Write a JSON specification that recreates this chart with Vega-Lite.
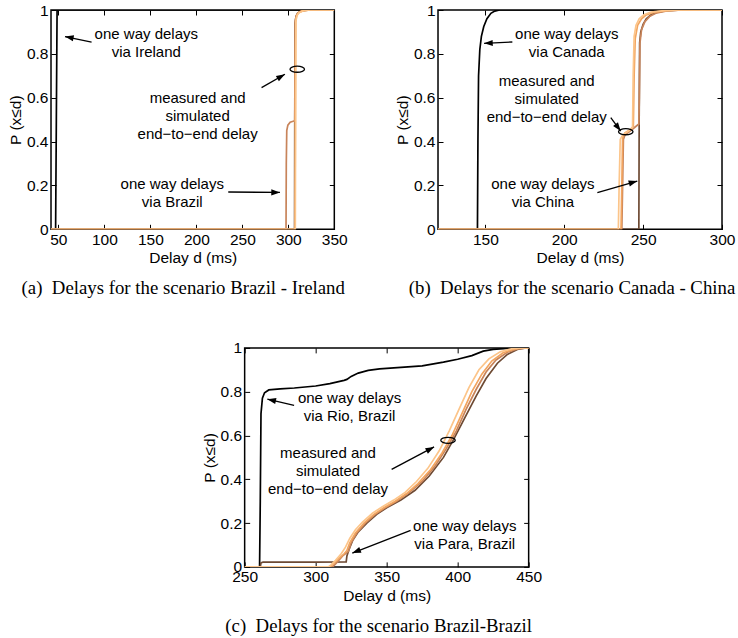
{
  "$schema": "https://vega.github.io/schema/vega-lite/v6.json",
  "background": "white",
  "padding": {"left": 7, "top": 2, "right": 0, "bottom": 0},
  "config": {
    "view": {"stroke": "black", "strokeWidth": 1.5},
    "axis": {"domain": false, "grid": false, "ticks": true, "tickSize": -5, "tickColor": "black", "tickWidth": 1,
      "labelFont": "Liberation Sans", "labelFontSize": 15.5, "labelColor": "black", "labelPadding": 8,
      "labelFlush": false, "labelOverlap": false, "labelBound": false,
      "titleFont": "Liberation Sans", "titleFontSize": 15.5, "titleFontWeight": "normal", "titleColor": "black"},
    "axisY": {"titlePadding": 3},
    "axisX": {"titlePadding": 3},
    "title": {"font": "Liberation Serif", "fontSize": 18.8, "fontWeight": "normal", "orient": "bottom", "anchor": "middle", "frame": "group", "color": "black", "offset": 13}
  },
  "datasets": {
    "aL": [
      {"s":"s1","x":42,"y":0},{"s":"s1","x":47,"y":0},{"s":"s1","x":47.8,"y":0.5},{"s":"s1","x":48.6,"y":1},{"s":"s1","x":350,"y":1},
      {"s":"s2","x":42,"y":0},{"s":"s2","x":306.8,"y":0},{"s":"s2","x":307,"y":0.5},{"s":"s2","x":307.3,"y":0.94},{"s":"s2","x":308.3,"y":0.97},{"s":"s2","x":310,"y":0.985},{"s":"s2","x":313,"y":0.994},{"s":"s2","x":318,"y":0.998},{"s":"s2","x":325,"y":1},{"s":"s2","x":350,"y":1},
      {"s":"s3","x":42,"y":0},{"s":"s3","x":297.5,"y":0},{"s":"s3","x":297.8,"y":0.3},{"s":"s3","x":298.3,"y":0.45},{"s":"s3","x":299.5,"y":0.475},{"s":"s3","x":302,"y":0.488},{"s":"s3","x":307,"y":0.495},{"s":"s3","x":307.3,"y":0.7},{"s":"s3","x":307.6,"y":0.95},{"s":"s3","x":308.8,"y":0.975},{"s":"s3","x":311,"y":0.988},{"s":"s3","x":315,"y":0.996},{"s":"s3","x":322,"y":1},{"s":"s3","x":350,"y":1},
      {"s":"s4","x":42,"y":0},{"s":"s4","x":307.3,"y":0},{"s":"s4","x":307.6,"y":0.5},{"s":"s4","x":307.9,"y":0.95},{"s":"s4","x":309,"y":0.975},{"s":"s4","x":311,"y":0.988},{"s":"s4","x":315,"y":0.996},{"s":"s4","x":322,"y":1},{"s":"s4","x":350,"y":1},
      {"s":"s5","x":42,"y":0},{"s":"s5","x":307.6,"y":0},{"s":"s5","x":307.9,"y":0.5},{"s":"s5","x":308.2,"y":0.95},{"s":"s5","x":309.5,"y":0.975},{"s":"s5","x":311.5,"y":0.988},{"s":"s5","x":316,"y":0.996},{"s":"s5","x":324,"y":1},{"s":"s5","x":350,"y":1}
    ],
    "aT": [
      {"x":145.6,"y":0.889,"t":"one way delays\nvia Ireland"},
      {"x":201.4,"y":0.601,"t":"measured and\nsimulated\nend−to−end delay"},
      {"x":173.8,"y":0.205,"t":"one way delays\nvia Brazil"}
    ],
    "aA": [
      {"x":86.1,"y":0.854,"x2":57.2,"y2":0.879,"a":281.5},
      {"x":270.9,"y":0.646,"x2":296.3,"y2":0.707,"a":60.4},
      {"x":234.7,"y":0.170,"x2":290.9,"y2":0.168,"a":90.7}
    ],
    "aE": [{"x":309.7,"y":0.73}],
    "bL": [
      {"s":"s1","x":120,"y":0},{"s":"s1","x":145,"y":0},{"s":"s1","x":145.3,"y":0.4},{"s":"s1","x":145.7,"y":0.7},{"s":"s1","x":146.5,"y":0.82},{"s":"s1","x":147.5,"y":0.88},{"s":"s1","x":149,"y":0.925},{"s":"s1","x":151,"y":0.96},{"s":"s1","x":153.5,"y":0.985},{"s":"s1","x":156,"y":0.995},{"s":"s1","x":159,"y":1},{"s":"s1","x":300,"y":1},
      {"s":"s2","x":120,"y":0},{"s":"s2","x":247.3,"y":0},{"s":"s2","x":247.5,"y":0.5},{"s":"s2","x":247.8,"y":0.85},{"s":"s2","x":248.5,"y":0.9},{"s":"s2","x":250,"y":0.935},{"s":"s2","x":252,"y":0.96},{"s":"s2","x":255,"y":0.978},{"s":"s2","x":259,"y":0.99},{"s":"s2","x":265,"y":0.997},{"s":"s2","x":275,"y":1},{"s":"s2","x":300,"y":1},
      {"s":"s3","x":120,"y":0},{"s":"s3","x":236.5,"y":0},{"s":"s3","x":237,"y":0.2},{"s":"s3","x":237.5,"y":0.41},{"s":"s3","x":238.5,"y":0.43},{"s":"s3","x":243,"y":0.455},{"s":"s3","x":247.3,"y":0.48},{"s":"s3","x":247.6,"y":0.6},{"s":"s3","x":248,"y":0.85},{"s":"s3","x":249,"y":0.91},{"s":"s3","x":251,"y":0.945},{"s":"s3","x":254,"y":0.97},{"s":"s3","x":258,"y":0.985},{"s":"s3","x":265,"y":0.996},{"s":"s3","x":275,"y":1},{"s":"s3","x":300,"y":1},
      {"s":"s4","x":120,"y":0},{"s":"s4","x":236,"y":0},{"s":"s4","x":236.5,"y":0.2},{"s":"s4","x":237,"y":0.42},{"s":"s4","x":238.5,"y":0.44},{"s":"s4","x":242,"y":0.455},{"s":"s4","x":243.8,"y":0.47},{"s":"s4","x":244.3,"y":0.7},{"s":"s4","x":245,"y":0.87},{"s":"s4","x":246.5,"y":0.93},{"s":"s4","x":249,"y":0.96},{"s":"s4","x":252,"y":0.978},{"s":"s4","x":257,"y":0.99},{"s":"s4","x":265,"y":0.997},{"s":"s4","x":275,"y":1},{"s":"s4","x":300,"y":1},
      {"s":"s5","x":120,"y":0},{"s":"s5","x":234.3,"y":0},{"s":"s5","x":234.8,"y":0.2},{"s":"s5","x":235.5,"y":0.41},{"s":"s5","x":237,"y":0.43},{"s":"s5","x":241,"y":0.45},{"s":"s5","x":243.3,"y":0.465},{"s":"s5","x":243.7,"y":0.7},{"s":"s5","x":244.3,"y":0.88},{"s":"s5","x":245.5,"y":0.93},{"s":"s5","x":247.5,"y":0.96},{"s":"s5","x":250.5,"y":0.978},{"s":"s5","x":255,"y":0.99},{"s":"s5","x":263,"y":0.997},{"s":"s5","x":272,"y":1},{"s":"s5","x":300,"y":1}
    ],
    "bT": [
      {"x":201.6,"y":0.889,"t":"one way delays\nvia Canada"},
      {"x":188.9,"y":0.676,"t":"measured and\nsimulated\nend−to−end delay"},
      {"x":186.5,"y":0.205,"t":"one way delays\nvia China"}
    ],
    "bA": [
      {"x":167.1,"y":0.854,"x2":149.2,"y2":0.848,"a":267.4},
      {"x":229.5,"y":0.509,"x2":235.8,"y2":0.448,"a":143.3},
      {"x":221,"y":0.167,"x2":246.3,"y2":0.220,"a":73.8}
    ],
    "bE": [{"x":239,"y":0.445}],
    "cL": [
      {"s":"s1","x":250,"y":0},{"s":"s1","x":260.5,"y":0},{"s":"s1","x":261,"y":0.3},{"s":"s1","x":261.5,"y":0.7},{"s":"s1","x":262.5,"y":0.77},{"s":"s1","x":264,"y":0.795},{"s":"s1","x":267,"y":0.808},{"s":"s1","x":275,"y":0.813},{"s":"s1","x":285,"y":0.817},{"s":"s1","x":300,"y":0.826},{"s":"s1","x":310,"y":0.837},{"s":"s1","x":320,"y":0.852},{"s":"s1","x":322,"y":0.856},{"s":"s1","x":325,"y":0.87},{"s":"s1","x":330,"y":0.885},{"s":"s1","x":337,"y":0.897},{"s":"s1","x":345,"y":0.904},{"s":"s1","x":360,"y":0.911},{"s":"s1","x":375,"y":0.918},{"s":"s1","x":390,"y":0.935},{"s":"s1","x":400,"y":0.948},{"s":"s1","x":410,"y":0.965},{"s":"s1","x":418,"y":0.985},{"s":"s1","x":425,"y":0.993},{"s":"s1","x":435,"y":0.998},{"s":"s1","x":445,"y":1},{"s":"s1","x":450,"y":1},
      {"s":"s2","x":250,"y":0},{"s":"s2","x":261,"y":0},{"s":"s2","x":261.5,"y":0.018},{"s":"s2","x":263,"y":0.022},{"s":"s2","x":300,"y":0.022},{"s":"s2","x":321.5,"y":0.023},{"s":"s2","x":322,"y":0.05},{"s":"s2","x":323.5,"y":0.08},{"s":"s2","x":326,"y":0.12},{"s":"s2","x":330,"y":0.16},{"s":"s2","x":336,"y":0.2},{"s":"s2","x":343,"y":0.24},{"s":"s2","x":350,"y":0.27},{"s":"s2","x":360,"y":0.305},{"s":"s2","x":370,"y":0.35},{"s":"s2","x":380,"y":0.415},{"s":"s2","x":390,"y":0.5},{"s":"s2","x":397,"y":0.58},{"s":"s2","x":405,"y":0.68},{"s":"s2","x":413,"y":0.78},{"s":"s2","x":420,"y":0.86},{"s":"s2","x":428,"y":0.93},{"s":"s2","x":435,"y":0.97},{"s":"s2","x":442,"y":0.993},{"s":"s2","x":448,"y":1},{"s":"s2","x":450,"y":1},
      {"s":"s3","x":250,"y":0},{"s":"s3","x":312,"y":0},{"s":"s3","x":315,"y":0.02},{"s":"s3","x":319,"y":0.05},{"s":"s3","x":322,"y":0.065},{"s":"s3","x":323,"y":0.07},{"s":"s3","x":325,"y":0.11},{"s":"s3","x":329,"y":0.155},{"s":"s3","x":335,"y":0.2},{"s":"s3","x":342,"y":0.24},{"s":"s3","x":349,"y":0.27},{"s":"s3","x":357,"y":0.3},{"s":"s3","x":366,"y":0.34},{"s":"s3","x":375,"y":0.39},{"s":"s3","x":384,"y":0.46},{"s":"s3","x":392,"y":0.54},{"s":"s3","x":399,"y":0.62},{"s":"s3","x":406,"y":0.72},{"s":"s3","x":413,"y":0.81},{"s":"s3","x":420,"y":0.89},{"s":"s3","x":427,"y":0.945},{"s":"s3","x":435,"y":0.98},{"s":"s3","x":443,"y":0.997},{"s":"s3","x":450,"y":1},
      {"s":"s4","x":250,"y":0},{"s":"s4","x":310,"y":0},{"s":"s4","x":312,"y":0.01},{"s":"s4","x":316,"y":0.035},{"s":"s4","x":320,"y":0.06},{"s":"s4","x":322,"y":0.075},{"s":"s4","x":324,"y":0.11},{"s":"s4","x":328,"y":0.155},{"s":"s4","x":334,"y":0.2},{"s":"s4","x":341,"y":0.24},{"s":"s4","x":348,"y":0.27},{"s":"s4","x":356,"y":0.3},{"s":"s4","x":364,"y":0.335},{"s":"s4","x":372,"y":0.38},{"s":"s4","x":381,"y":0.445},{"s":"s4","x":389,"y":0.52},{"s":"s4","x":396,"y":0.6},{"s":"s4","x":403,"y":0.7},{"s":"s4","x":410,"y":0.8},{"s":"s4","x":417,"y":0.88},{"s":"s4","x":424,"y":0.94},{"s":"s4","x":432,"y":0.978},{"s":"s4","x":440,"y":0.995},{"s":"s4","x":447,"y":1},{"s":"s4","x":450,"y":1},
      {"s":"s5","x":250,"y":0},{"s":"s5","x":309,"y":0},{"s":"s5","x":311,"y":0.01},{"s":"s5","x":314,"y":0.03},{"s":"s5","x":318,"y":0.06},{"s":"s5","x":321,"y":0.09},{"s":"s5","x":324,"y":0.13},{"s":"s5","x":328,"y":0.17},{"s":"s5","x":333,"y":0.205},{"s":"s5","x":340,"y":0.245},{"s":"s5","x":347,"y":0.275},{"s":"s5","x":355,"y":0.305},{"s":"s5","x":363,"y":0.34},{"s":"s5","x":371,"y":0.39},{"s":"s5","x":379,"y":0.45},{"s":"s5","x":387,"y":0.53},{"s":"s5","x":394,"y":0.62},{"s":"s5","x":401,"y":0.72},{"s":"s5","x":408,"y":0.82},{"s":"s5","x":415,"y":0.9},{"s":"s5","x":422,"y":0.95},{"s":"s5","x":430,"y":0.982},{"s":"s5","x":438,"y":0.996},{"s":"s5","x":445,"y":1},{"s":"s5","x":450,"y":1}
    ],
    "cT": [
      {"x":323.9,"y":0.773,"t":"one way delays\nvia Rio, Brazil"},
      {"x":308.7,"y":0.521,"t":"measured and\nsimulated\nend−to−end delay"},
      {"x":405,"y":0.187,"t":"one way delays\nvia Para, Brazil"}
    ],
    "cA": [
      {"x":284.8,"y":0.738,"x2":266,"y2":0.766,"a":282.7},
      {"x":353.5,"y":0.445,"x2":383.4,"y2":0.548,"a":61.9},
      {"x":366.9,"y":0.167,"x2":325.8,"y2":0.063,"a":248.5}
    ],
    "cE": [{"x":393.2,"y":0.578}]
  },
  "vconcat": [
    {
      "hconcat": [
        {
          "width": 283.3, "height": 219.3,
          "title": {"text": "(a)\u00a0 Delays for the scenario Brazil - Ireland", "dx": -9.4},
          "resolve": {"axis": {"x": "independent", "y": "independent"}},
          "layer": [
            {"data": {"name": "aL"}, "mark": {"type": "line", "strokeWidth": 1.7, "clip": true},
             "encoding": {
               "x": {"field": "x", "type": "quantitative", "scale": {"domain": [42, 350], "nice": false, "zero": false}, "axis": {"values": [50,100,150,200,250,300,350], "format": "d", "title": "Delay d (ms)"}},
               "y": {"field": "y", "type": "quantitative", "scale": {"domain": [0, 1], "nice": false}, "axis": {"values": [0,0.2,0.4,0.6,0.8,1], "format": "~g", "title": "P (x≤d)"}},
               "color": {"field": "s", "type": "nominal", "scale": {"domain": ["s1","s2","s3","s4","s5"], "range": ["#000000","#6E4A33","#C8845A","#F2A560","#FCC58A"]}, "legend": null}
             }},
            {"data": {"name": "aA"}, "mark": {"type": "rule", "color": "black", "strokeWidth": 1.3},
             "encoding": {"x": {"field": "x", "type": "quantitative", "axis": null}, "y": {"field": "y", "type": "quantitative", "axis": null}, "x2": {"field": "x2"}, "y2": {"field": "y2"}}},
            {"data": {"name": "aA"}, "mark": {"type": "point", "shape": "M0,0L-0.35,1L0.35,1Z", "filled": true, "color": "black", "size": 300, "opacity": 1},
             "encoding": {"x": {"field": "x2", "type": "quantitative", "axis": null}, "y": {"field": "y2", "type": "quantitative", "axis": null}, "angle": {"field": "a", "type": "quantitative", "scale": null}}},
            {"data": {"name": "aT"}, "mark": {"type": "text", "font": "Liberation Sans", "fontSize": 15, "lineBreak": "\n", "lineHeight": 18, "align": "center", "baseline": "middle", "color": "black"},
             "encoding": {"x": {"field": "x", "type": "quantitative", "axis": null}, "y": {"field": "y", "type": "quantitative", "axis": null}, "text": {"field": "t"}}},
            {"data": {"name": "aE"}, "mark": {"type": "point", "shape": "M-1,0A1,0.42,0,1,1,1,0A1,0.42,0,1,1,-1,0Z", "size": 210, "filled": false, "color": "black", "strokeWidth": 1.3, "opacity": 1},
             "encoding": {"x": {"field": "x", "type": "quantitative", "axis": {"orient": "top", "labels": false, "title": null, "values": [50,100,150,200,250,300,350]}}, "y": {"field": "y", "type": "quantitative", "axis": {"orient": "right", "labels": false, "title": null, "values": [0,0.2,0.4,0.6,0.8,1]}}}}
          ]
        },
        {
          "width": 284, "height": 219.3,
          "title": {"text": "(b)\u00a0 Delays for the scenario Canada - China", "dx": -8},
          "resolve": {"axis": {"x": "independent", "y": "independent"}},
          "layer": [
            {"data": {"name": "bL"}, "mark": {"type": "line", "strokeWidth": 1.7, "clip": true},
             "encoding": {
               "x": {"field": "x", "type": "quantitative", "scale": {"domain": [120, 300], "nice": false, "zero": false}, "axis": {"values": [150,200,250,300], "format": "d", "title": "Delay d (ms)"}},
               "y": {"field": "y", "type": "quantitative", "scale": {"domain": [0, 1], "nice": false}, "axis": {"values": [0,0.2,0.4,0.6,0.8,1], "format": "~g", "title": "P (x≤d)"}},
               "color": {"field": "s", "type": "nominal", "scale": {"domain": ["s1","s2","s3","s4","s5"], "range": ["#000000","#6E4A33","#C8845A","#F2A560","#FCC58A"]}, "legend": null}
             }},
            {"data": {"name": "bA"}, "mark": {"type": "rule", "color": "black", "strokeWidth": 1.3},
             "encoding": {"x": {"field": "x", "type": "quantitative", "axis": null}, "y": {"field": "y", "type": "quantitative", "axis": null}, "x2": {"field": "x2"}, "y2": {"field": "y2"}}},
            {"data": {"name": "bA"}, "mark": {"type": "point", "shape": "M0,0L-0.35,1L0.35,1Z", "filled": true, "color": "black", "size": 300, "opacity": 1},
             "encoding": {"x": {"field": "x2", "type": "quantitative", "axis": null}, "y": {"field": "y2", "type": "quantitative", "axis": null}, "angle": {"field": "a", "type": "quantitative", "scale": null}}},
            {"data": {"name": "bT"}, "mark": {"type": "text", "font": "Liberation Sans", "fontSize": 15, "lineBreak": "\n", "lineHeight": 18, "align": "center", "baseline": "middle", "color": "black"},
             "encoding": {"x": {"field": "x", "type": "quantitative", "axis": null}, "y": {"field": "y", "type": "quantitative", "axis": null}, "text": {"field": "t"}}},
            {"data": {"name": "bE"}, "mark": {"type": "point", "shape": "M-1,0A1,0.42,0,1,1,1,0A1,0.42,0,1,1,-1,0Z", "size": 210, "filled": false, "color": "black", "strokeWidth": 1.3, "opacity": 1},
             "encoding": {"x": {"field": "x", "type": "quantitative", "axis": {"orient": "top", "labels": false, "title": null, "values": [150,200,250,300]}}, "y": {"field": "y", "type": "quantitative", "axis": {"orient": "right", "labels": false, "title": null, "values": [0,0.2,0.4,0.6,0.8,1]}}}}
          ]
        }
      ],
      "spacing": 103,
      "bounds": "flush"
    },
    {
      "width": 284, "height": 219,
      "title": {"text": "(c)\u00a0 Delays for the scenario Brazil-Brazil", "dx": -8},
      "resolve": {"axis": {"x": "independent", "y": "independent"}},
      "layer": [
        {"data": {"name": "cL"}, "mark": {"type": "line", "strokeWidth": 1.7, "clip": true},
         "encoding": {
           "x": {"field": "x", "type": "quantitative", "scale": {"domain": [250, 450], "nice": false, "zero": false}, "axis": {"values": [250,300,350,400,450], "format": "d", "title": "Delay d (ms)"}},
           "y": {"field": "y", "type": "quantitative", "scale": {"domain": [0, 1], "nice": false}, "axis": {"values": [0,0.2,0.4,0.6,0.8,1], "format": "~g", "title": "P (x≤d)"}},
           "color": {"field": "s", "type": "nominal", "scale": {"domain": ["s1","s2","s3","s4","s5"], "range": ["#000000","#6E4A33","#C8845A","#F2A560","#FCC58A"]}, "legend": null}
         }},
        {"data": {"name": "cA"}, "mark": {"type": "rule", "color": "black", "strokeWidth": 1.3},
         "encoding": {"x": {"field": "x", "type": "quantitative", "axis": null}, "y": {"field": "y", "type": "quantitative", "axis": null}, "x2": {"field": "x2"}, "y2": {"field": "y2"}}},
        {"data": {"name": "cA"}, "mark": {"type": "point", "shape": "M0,0L-0.35,1L0.35,1Z", "filled": true, "color": "black", "size": 300, "opacity": 1},
         "encoding": {"x": {"field": "x2", "type": "quantitative", "axis": null}, "y": {"field": "y2", "type": "quantitative", "axis": null}, "angle": {"field": "a", "type": "quantitative", "scale": null}}},
        {"data": {"name": "cT"}, "mark": {"type": "text", "font": "Liberation Sans", "fontSize": 15, "lineBreak": "\n", "lineHeight": 18, "align": "center", "baseline": "middle", "color": "black"},
         "encoding": {"x": {"field": "x", "type": "quantitative", "axis": null}, "y": {"field": "y", "type": "quantitative", "axis": null}, "text": {"field": "t"}}},
        {"data": {"name": "cE"}, "mark": {"type": "point", "shape": "M-1,0A1,0.42,0,1,1,1,0A1,0.42,0,1,1,-1,0Z", "size": 210, "filled": false, "color": "black", "strokeWidth": 1.3, "opacity": 1},
         "encoding": {"x": {"field": "x", "type": "quantitative", "axis": {"orient": "top", "labels": false, "title": null, "values": [250,300,350,400,450]}}, "y": {"field": "y", "type": "quantitative", "axis": {"orient": "right", "labels": true, "labelOpacity": 0, "labelPadding": -5, "labelExpr": "datum.value == 0.6 ? '0.6' : ''", "title": null, "values": [0,0.2,0.4,0.6,0.8,1]}}}}
      ]
    }
  ],
  "spacing": 40.9,
  "center": true
}
